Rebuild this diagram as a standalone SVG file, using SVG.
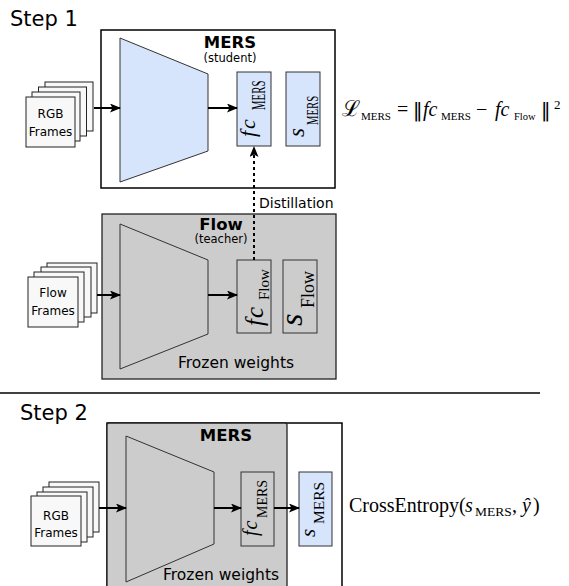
<svg xmlns="http://www.w3.org/2000/svg" width="569" height="586" viewBox="0 0 569 586">
<defs>
<marker id="ah" markerUnits="userSpaceOnUse" markerWidth="12" markerHeight="10" refX="10" refY="4.5" orient="auto">
<path d="M0,0 L11,4.5 L0,9 L2.5,4.5 z" fill="#000"/>
</marker>
</defs>
<style>
.sans{font-family:"DejaVu Sans","Liberation Sans",sans-serif;fill:#000}
.bold{font-weight:bold}
.math{font-family:"Liberation Serif","DejaVu Serif",serif;fill:#000}
.it{font-style:italic}
.bar{font-family:"DejaVu Sans",sans-serif}
.outer{fill:#fff;stroke:#000;stroke-width:1.5}
.gbox{fill:#cccccc;stroke:#222;stroke-width:1.3}
.blue{fill:#d6e4fc;stroke:#333;stroke-width:1}
.gray{fill:#cccccc;stroke:#333;stroke-width:1}
.frame{fill:#f8f8f8;stroke:#222;stroke-width:1}
.arrow{stroke:#000;stroke-width:2;fill:none;marker-end:url(#ah)}
.dotted{stroke:#000;stroke-width:2;fill:none;stroke-dasharray:3,3;marker-end:url(#ah)}
</style>
<rect width="569" height="586" fill="#fff"/>

<text class="sans" x="10" y="26" font-size="21">Step 1</text>
<text class="sans" x="20" y="420" font-size="21">Step 2</text>
<line x1="0" y1="393" x2="540" y2="393" stroke="#000" stroke-width="1.5"/>

<!-- Step 1 MERS student -->
<g id="mers-student">
<rect class="outer" x="101" y="30" width="234" height="158"/>
<text class="sans bold" x="230" y="48" font-size="16.5" text-anchor="middle">MERS</text>
<text class="sans" x="230" y="61.5" font-size="11.5" text-anchor="middle">(student)</text>
</g>
<g id="mers-encoder">
<polygon class="blue" points="120,38 208,74 208,151 120,182"/>
</g>
<g id="fc-mers-1">
<rect class="blue" x="237" y="72" width="34" height="74"/>
<g transform="translate(255,137) rotate(-90)"><text class="math it" font-size="22" letter-spacing="2">fc</text><text class="math" font-size="18" transform="translate(27,10) scale(0.6,1)">MERS</text></g>
</g>
<g id="s-mers-1">
<rect class="blue" x="286" y="72" width="34" height="74"/>
<g transform="translate(304,137) rotate(-90)"><text class="math it" font-size="23">s</text><text class="math" font-size="17" transform="translate(12,14) scale(0.63,1)">MERS</text></g>
</g>
<g id="rgb-frames-1">
<rect class="frame" x="45" y="82" width="48" height="49"/>
<rect class="frame" x="38.5" y="87" width="48" height="49"/>
<rect class="frame" x="32" y="92" width="48" height="49"/>
<rect class="frame" x="26" y="97" width="49" height="50"/>
<text class="sans" x="50.5" y="118" font-size="12" text-anchor="middle">RGB</text>
<text class="sans" x="50.5" y="136" font-size="12" text-anchor="middle">Frames</text>
</g>
<g id="loss-1">
<text class="math" y="116" font-size="20"><tspan x="342" font-size="22">ℒ</tspan><tspan x="361" dy="4" font-size="11">MERS</tspan><tspan x="397" dy="-4">=</tspan><tspan x="413" class="bar" font-size="19" dy="1">‖</tspan><tspan x="423" class="it" dy="-1">fc</tspan><tspan x="441" dy="4" font-size="11">MERS</tspan><tspan x="476" dy="-4">−</tspan><tspan x="495" class="it">fc</tspan><tspan x="514" dy="4" font-size="10.5">Flow</tspan><tspan x="541" dy="-3" class="bar" font-size="19">‖</tspan><tspan x="554" dy="-8" font-size="13">2</tspan></text>
</g>

<!-- Step 1 Flow teacher -->
<g id="flow-teacher">
<rect class="gbox" x="102" y="214" width="234" height="165"/>
<text class="sans bold" x="221" y="229.5" font-size="16.5" text-anchor="middle">Flow</text>
<text class="sans" x="221" y="243" font-size="11.5" text-anchor="middle">(teacher)</text>
<text class="sans" x="236" y="368" font-size="15.5" text-anchor="middle">Frozen weights</text>
</g>
<g id="flow-encoder">
<polygon class="gray" points="120,224 208,260 208,334 120,369"/>
</g>
<g id="fc-flow">
<rect class="gray" x="237" y="260" width="34" height="73"/>
<g transform="translate(263,326) rotate(-90)"><text class="math it" font-size="25" letter-spacing="1">fc</text><text class="math" font-size="15" x="26" y="6">Flow</text></g>
</g>
<g id="s-flow">
<rect class="gray" x="283" y="260" width="34" height="73"/>
<g transform="translate(302,326) rotate(-90)"><text class="math it" font-size="32">s</text><text class="math" font-size="18" x="18" y="12">Flow</text></g>
</g>
<g id="flow-frames">
<rect class="frame" x="47" y="263" width="50" height="50"/>
<rect class="frame" x="41" y="267" width="50" height="50"/>
<rect class="frame" x="34" y="272" width="50" height="50"/>
<rect class="frame" x="28" y="277" width="50" height="50"/>
<text class="sans" x="53" y="297" font-size="12" text-anchor="middle">Flow</text>
<text class="sans" x="53" y="315" font-size="12" text-anchor="middle">Frames</text>
</g>

<!-- Step 2 -->
<g id="step2-outer">
<rect class="outer" x="107" y="423" width="235" height="170"/>
</g>
<g id="mers-frozen">
<rect class="gbox" x="107" y="423" width="180" height="170" rx="2"/>
<text class="sans bold" x="226" y="441" font-size="16.5" text-anchor="middle">MERS</text>
<text class="sans" x="221" y="580" font-size="15.5" text-anchor="middle">Frozen weights</text>
</g>
<g id="mers-encoder-2">
<polygon class="gray" points="126,436 214,472 214,544 126,582"/>
</g>
<g id="fc-mers-2">
<rect class="gray" x="241" y="472" width="33" height="74"/>
<g transform="translate(257,536) rotate(-90)"><text class="math it" font-size="20" letter-spacing="1">fc</text><text class="math" font-size="14" x="18" y="10">MERS</text></g>
</g>
<g id="s-mers-2">
<rect class="blue" x="299" y="472" width="33" height="74"/>
<g transform="translate(315,537) rotate(-90)"><text class="math it" font-size="21">s</text><text class="math" font-size="15.5" x="13" y="8.5">MERS</text></g>
</g>
<g id="rgb-frames-2">
<rect class="frame" x="49" y="482" width="50" height="50"/>
<rect class="frame" x="43" y="487" width="50" height="50"/>
<rect class="frame" x="37" y="492" width="50" height="50"/>
<rect class="frame" x="31" y="496" width="50" height="50"/>
<text class="sans" x="56" y="520" font-size="12" text-anchor="middle">RGB</text>
<text class="sans" x="56" y="537" font-size="12" text-anchor="middle">Frames</text>
</g>
<g id="loss-2">
<text class="math" y="512" font-size="20"><tspan x="349">CrossEntropy(</tspan><tspan x="465" class="it">s</tspan><tspan x="475" dy="4" font-size="13.5">MERS</tspan><tspan x="512" dy="-4">,</tspan><tspan x="522" class="it">ŷ</tspan><tspan x="533">)</tspan></text>
</g>

<!-- connectors -->
<g id="connectors">
<line class="arrow" x1="94" y1="108" x2="120" y2="108"/>
<line class="arrow" x1="208" y1="108" x2="237" y2="108"/>
<line class="dotted" x1="254" y1="260" x2="254" y2="147"/>
<text class="sans" x="259" y="208" font-size="14">Distillation</text>
<line class="arrow" x1="97" y1="295" x2="120" y2="295"/>
<line class="arrow" x1="208" y1="295" x2="237" y2="295"/>
<line class="arrow" x1="99" y1="508" x2="126" y2="508"/>
<line class="arrow" x1="214" y1="508" x2="241" y2="508"/>
<line class="arrow" x1="274" y1="508" x2="299" y2="508"/>
</g>
</svg>
